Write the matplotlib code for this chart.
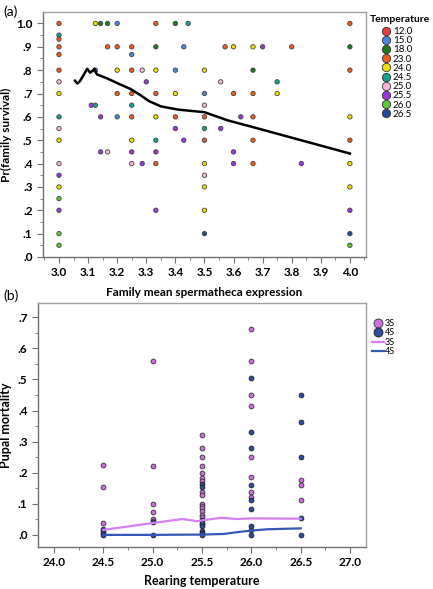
import numpy as np
import matplotlib
matplotlib.use("Agg")
import matplotlib.pyplot as plt
from matplotlib.ticker import MultipleLocator, FuncFormatter
from matplotlib.lines import Line2D

# ---- panel (a) data: family mean spermatheca expression vs survival
fam_x = [3.0, 3.125, 3.143, 3.167, 3.2, 3.333, 3.4, 3.444, 4.0,
         3.0, 3.0,
         3.0, 3.167, 3.2, 3.25, 3.333, 3.429, 3.571, 3.6, 3.667, 3.7, 3.8, 4.0,
         3.0, 3.25,
         3.0, 3.125, 3.2, 3.25, 3.286, 3.333, 3.4, 3.5, 3.667, 4.0,
         3.0, 3.3, 3.556, 3.75,
         3.0, 3.2, 3.25, 3.333, 3.4, 3.5, 3.6, 3.667, 3.75,
         3.111, 3.125, 3.25, 3.5,
         3.0, 3.143, 3.2, 3.25, 3.333, 3.4, 3.5, 3.625, 3.667, 4.0,
         3.0, 3.4, 3.5, 3.556,
         3.0, 3.25, 3.333, 3.429, 3.5, 3.667, 4.0,
         3.143, 3.167, 3.25, 3.333, 3.6,
         3.0, 3.25, 3.286, 3.333, 3.5, 3.6, 3.667, 3.833, 4.0,
         3.0, 3.5,
         3.0, 3.5, 4.0,
         3.0,
         3.0, 3.333, 3.5, 4.0,
         3.0, 3.5, 4.0,
         3.0, 4.0]
fam_y = [1.0] * 9 + [0.95, 0.933] + [0.9] * 12 + [0.867] * 2 + [0.8] * 10 \
    + [0.75] * 4 + [0.7] * 9 + [0.65] * 4 + [0.6] * 10 + [0.55] * 4 \
    + [0.5] * 7 + [0.45] * 5 + [0.4] * 9 + [0.35] * 2 + [0.3] * 3 + [0.25] \
    + [0.2] * 4 + [0.1] * 3 + [0.05] * 2
fam_temp = [23.0, 24.0, 18.0, 18.0, 15.0, 23.0, 18.0, 24.5, 23.0,
            24.5, 23.0,
            23.0, 23.0, 23.0, 23.0, 18.0, 15.0, 23.0, 24.0, 24.0, 25.5, 23.0, 18.0,
            23.0, 15.0,
            23.0, 15.0, 24.0, 23.0, 25.0, 24.0, 15.0, 24.0, 18.0, 23.0,
            25.0, 25.5, 25.0, 24.5,
            24.0, 23.0, 23.0, 23.0, 24.0, 15.0, 23.0, 23.0, 24.0,
            25.5, 24.5, 24.5, 25.0,
            24.5, 25.5, 15.0, 23.0, 24.0, 23.0, 23.0, 25.5, 23.0, 24.0,
            25.0, 25.5, 24.5, 25.5,
            24.0, 24.0, 24.5, 25.5, 23.0, 23.0, 23.0,
            25.5, 25.0, 25.5, 25.5, 25.5,
            25.0, 25.0, 25.5, 23.0, 24.0, 25.5, 23.0, 25.5, 24.0,
            25.5, 25.0,
            24.0, 24.0, 24.0,
            26.0,
            25.5, 25.5, 24.0, 25.5,
            26.0, 26.5, 26.5,
            26.0, 26.0]

# smoothed fit line (a)
fit_x = [3.055, 3.063, 3.072, 3.085, 3.097, 3.107, 3.116, 3.122, 3.13, 3.165,
         3.21, 3.245, 3.28, 3.31, 3.35, 3.41, 3.5, 3.58, 3.67, 4.0]
fit_y = [0.755, 0.743, 0.753, 0.78, 0.806, 0.789, 0.798, 0.806, 0.782, 0.765,
         0.739, 0.72, 0.693, 0.667, 0.645, 0.631, 0.62, 0.585, 0.555, 0.443]

temps = [12.0, 15.0, 18.0, 23.0, 24.0, 24.5, 25.0, 25.5, 26.0, 26.5]
temp_colors = ["#ee3b3b", "#4a86e0", "#1f7a1f", "#f05a1a", "#f0e000",
               "#16a090", "#f7b6dc", "#9a35e0", "#5cc63c", "#24479a"]

# ---- panel (b) data: pupal mortality vs rearing temperature
s3_x = [24.5] * 3 + [25.0] * 6 + [25.5] * 16 + [26.0] * 8 + [26.5] * 3
s3_y = [0.225, 0.155, 0.038,
        0.56, 0.22, 0.1, 0.075, 0.05, 0.045,
        0.32, 0.28, 0.25, 0.223, 0.199, 0.183, 0.173, 0.139, 0.127, 0.1,
        0.093, 0.085, 0.078, 0.063, 0.056, 0.034,
        0.662, 0.56, 0.449, 0.413, 0.251, 0.185, 0.139, 0.122,
        0.178, 0.162, 0.112]
s4_x = [24.5] * 4 + [25.0] * 2 + [25.5] * 8 + [26.0] * 9 + [26.5] * 5
s4_y = [0.02, 0.012, 0.005, 0.0,
        0.042, 0.0,
        0.164, 0.155, 0.048, 0.039, 0.027, 0.014, 0.007, 0.0,
        0.505, 0.33, 0.28, 0.162, 0.112, 0.082, 0.029, 0.016, 0.0,
        0.449, 0.363, 0.251, 0.055, 0.0]

s3_line_x = [24.5, 25.0, 25.3, 25.45, 25.55, 25.7, 25.85, 26.0, 26.5]
s3_line_y = [0.016, 0.038, 0.051, 0.044, 0.049, 0.055, 0.051, 0.053, 0.052]
s4_line_x = [24.5, 25.0, 25.5, 25.72, 25.89, 26.0, 26.16, 26.5]
s4_line_y = [0.0, 0.0, 0.001, 0.003, 0.01, 0.014, 0.018, 0.021]

s3_color = "#cc70e0"
s4_color = "#2c4c9c"

plt.rcParams['font.family'] = ['Lato', 'DejaVu Sans']


def dot_fmt(v, pos):
    s = "%.1f" % v
    if s.startswith("0"):
        s = s[1:]
    if s.startswith("-"):
        s = ""
    return s


def style_axes(ax):
    for sp in ax.spines.values():
        sp.set_color("#a0a0a0")
        sp.set_linewidth(1.0)
    ax.spines['left'].set_color("#707070")
    ax.spines['bottom'].set_color("#707070")
    ax.tick_params(which='both', direction='out', color="#707070", labelsize=8.5)
    ax.tick_params(which='major', length=4)
    ax.tick_params(which='minor', length=2)
    for lbl in ax.get_xticklabels() + ax.get_yticklabels():
        lbl.set_fontweight('bold')
    ax.yaxis.set_major_formatter(FuncFormatter(dot_fmt))


fig = plt.figure(figsize=(4.33, 5.89), dpi=100)

# ---- (a)
ax1 = fig.add_axes([0.0993, 0.5637, 0.7457, 0.4159])
cmap = dict(zip(temps, temp_colors))
ax1.scatter(fam_x, fam_y, c=[cmap[t] for t in fam_temp], s=10,
            edgecolors="#444444", linewidths=0.6, zorder=3)
ax1.plot(fit_x, fit_y, color="black", lw=1.8, zorder=4)
ax1.set_xlim(2.945, 4.055)
ax1.set_ylim(0, 1.049)
ax1.xaxis.set_major_locator(MultipleLocator(0.1))
ax1.xaxis.set_minor_locator(MultipleLocator(0.05))
ax1.yaxis.set_major_locator(MultipleLocator(0.1))
ax1.yaxis.set_minor_locator(MultipleLocator(0.05))
style_axes(ax1)
ax1.set_xlabel("Family mean spermatheca expression", labelpad=6,
               fontsize=8.5, fontweight='bold')
ax1.set_ylabel("Pr(family survival)", labelpad=3, fontsize=8.5, fontweight='bold')

handles_a = [Line2D([], [], ls='none', marker='o', markersize=6,
                    markerfacecolor=c, markeredgecolor="#333333",
                    markeredgewidth=0.6) for c in temp_colors]
fig.legend(handles_a, ["%.1f" % t for t in temps],
           loc='upper left', bbox_to_anchor=(382 / 433, 1 - 27 / 589),
           frameon=False, fontsize=7, labelspacing=0.02, handletextpad=0.2,
           handlelength=0.9, borderpad=0, borderaxespad=0)
fig.text(370 / 433, 1 - 20 / 589, "Temperature", fontsize=7.5,
         fontweight='bold', va='center', ha='left')

fig.text(0.008, 0.972, "(a)", fontsize=10)

# ---- (b)
ax2 = fig.add_axes([0.0878, 0.0713, 0.7572, 0.4143])
ax2.scatter(s3_x, s3_y, color=s3_color, s=12, edgecolors="#333333",
            linewidths=0.6, zorder=3)
ax2.scatter(s4_x, s4_y, color=s4_color, s=12, edgecolors="#222222",
            linewidths=0.6, zorder=3)
ax2.plot(s3_line_x, s3_line_y, color="#d67ff0", lw=1.6, zorder=4)
ax2.plot(s4_line_x, s4_line_y, color="#3558b8", lw=1.6, zorder=4)
ax2.set_xlim(23.84, 27.16)
ax2.set_ylim(-0.039, 0.746)
ax2.xaxis.set_major_locator(MultipleLocator(0.5))
ax2.xaxis.set_minor_locator(MultipleLocator(0.25))
ax2.yaxis.set_major_locator(MultipleLocator(0.1))
ax2.yaxis.set_minor_locator(MultipleLocator(0.05))
style_axes(ax2)
ax2.set_xlabel("Rearing temperature", labelpad=5, fontsize=9, fontweight='bold')
ax2.set_ylabel("Pupal mortality", labelpad=4, fontsize=9, fontweight='bold')

handles_b = [
    Line2D([], [], ls='none', marker='o', markersize=6.5,
           markerfacecolor=s3_color, markeredgecolor="#333333", markeredgewidth=0.6),
    Line2D([], [], ls='none', marker='o', markersize=6.5,
           markerfacecolor=s4_color, markeredgecolor="#222222", markeredgewidth=0.6),
    Line2D([], [], color="#d67ff0", lw=1.6),
    Line2D([], [], color="#3558b8", lw=1.6),
]
fig.legend(handles_b, ["3S", "4S", "3S", "4S"], loc='upper left',
           bbox_to_anchor=(372 / 433, 1 - 319 / 589), frameon=False,
           fontsize=6.5, labelspacing=0.05, handletextpad=0.1,
           handlelength=1.3, borderpad=0, borderaxespad=0)

fig.text(0.008, 0.49, "(b)", fontsize=10)

fig.savefig("out.png", dpi=100)
